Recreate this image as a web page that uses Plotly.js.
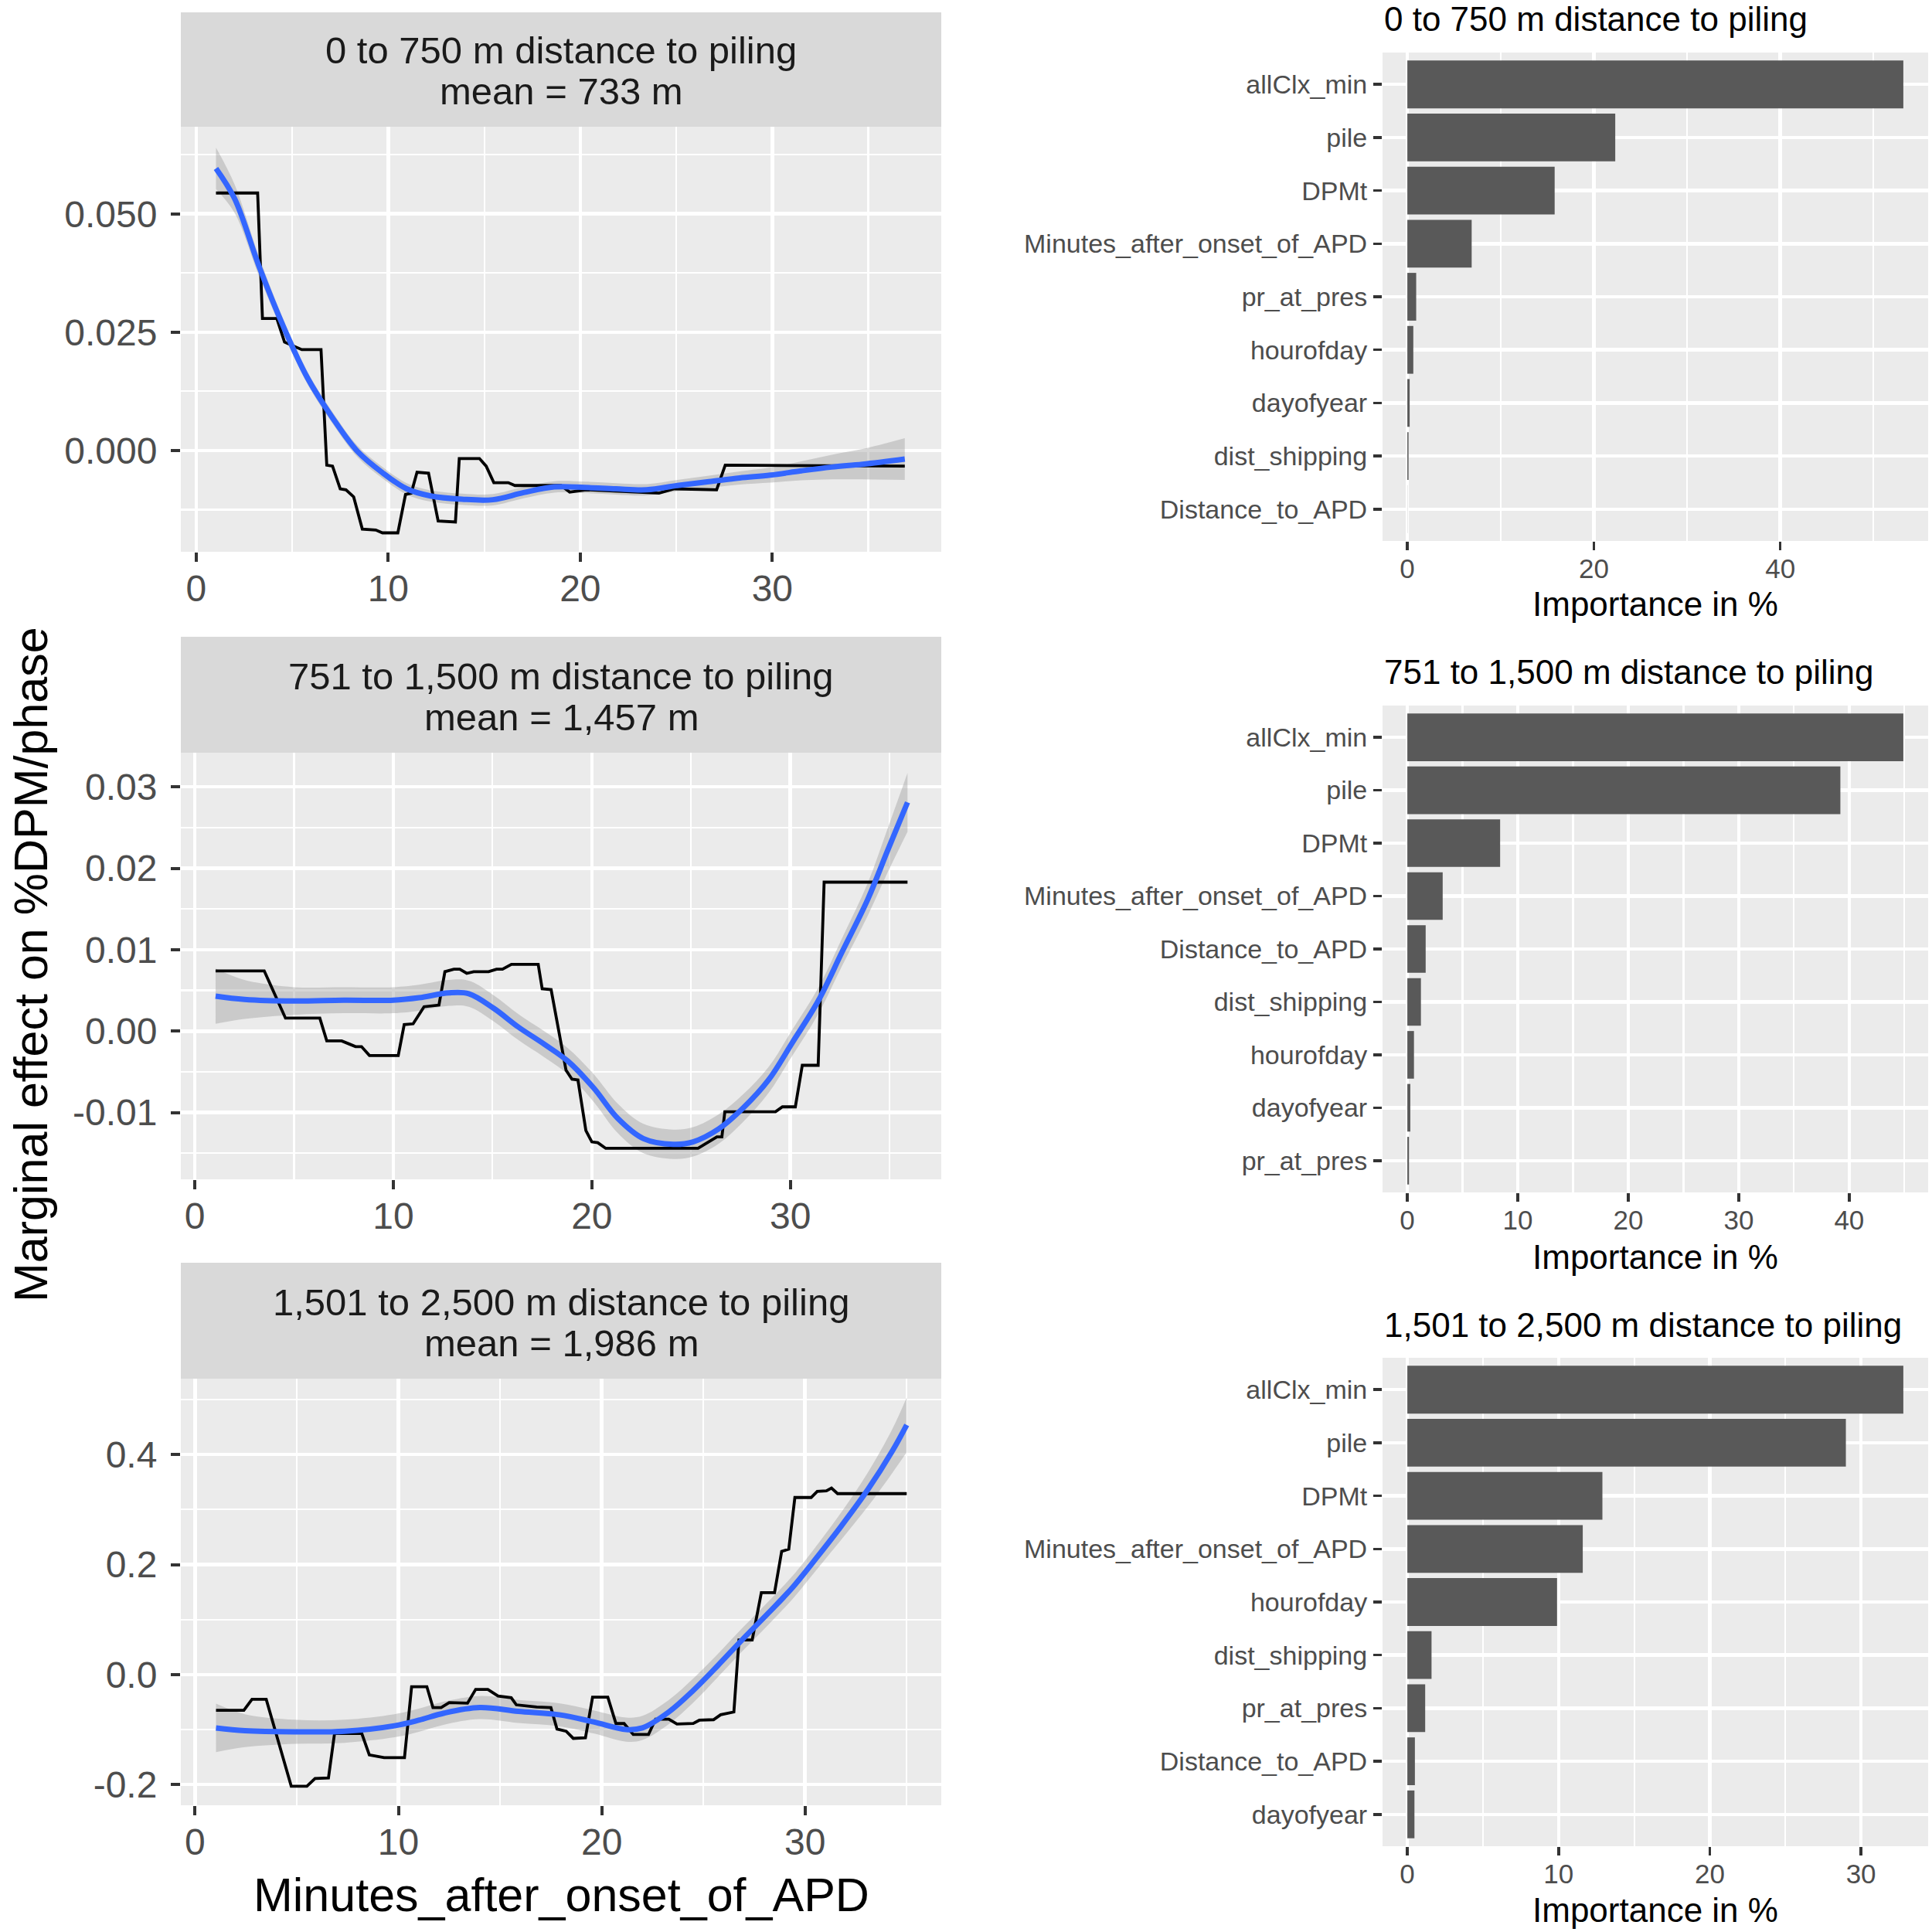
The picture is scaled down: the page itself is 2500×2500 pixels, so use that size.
<!DOCTYPE html>
<html>
<head>
<meta charset="utf-8">
<script src="https://cdn.plot.ly/plotly-3.0.1.min.js"></script>
<style>body{margin:0;background:#fff}#plot{width:2500px;height:2500px}</style>
</head>
<body>
<div id="plot"></div>
<script>
// partial dependence, 0 to 750 m
var stepX1 = [1.03, 3.2, 3.45, 4.2, 4.6, 5.2, 5.5, 6.5, 6.8, 7.1, 7.5, 7.8, 8.2, 8.65, 9.35, 9.7, 10.5, 10.9, 11.2, 11.5, 12.1, 12.6, 13.5, 13.7, 14.75, 15.1, 15.5, 16.25, 16.6, 19.0, 19.45, 20.3, 22.7, 24.1, 24.9, 27.1, 27.55, 36.9];
var stepY1 = [0.0544, 0.0544, 0.0279, 0.0279, 0.0229, 0.0219, 0.0213, 0.0213, -0.0031, -0.0033, -0.0081, -0.0083, -0.0098, -0.0166, -0.0168, -0.0174, -0.0174, -0.0093, -0.0090, -0.0046, -0.0048, -0.0149, -0.0151, -0.0017, -0.0017, -0.0033, -0.0068, -0.0068, -0.0074, -0.0074, -0.0088, -0.0083, -0.0088, -0.0090, -0.0081, -0.0083, -0.0031, -0.0033];
var fitX1 = [1.03, 2, 3.3, 4.55, 5.8, 7.1, 8.4, 9.7, 10.96, 12.2, 13.85, 15.45, 17.05, 18.65, 20.25, 21.86, 23.46, 25.06, 26.7, 28.3, 29.9, 31.5, 33.1, 34.7, 36.9];
var fitY1 = [0.0596, 0.0532, 0.0386, 0.0261, 0.0153, 0.0069, -0.0002, -0.0047, -0.0081, -0.0096, -0.0103, -0.0104, -0.0089, -0.0077, -0.0078, -0.0081, -0.0083, -0.0074, -0.0066, -0.0058, -0.0052, -0.0043, -0.0035, -0.0029, -0.0018];
var fitSe1 = [0.0044, 0.0030, 0.0020, 0.0015, 0.0013, 0.0012, 0.0012, 0.0012, 0.0012, 0.0012, 0.0012, 0.0012, 0.0012, 0.0012, 0.0012, 0.0012, 0.0012, 0.0012, 0.0013, 0.0014, 0.0016, 0.0020, 0.0026, 0.0032, 0.0044];

// partial dependence, 751 to 1,500 m
var stepX2 = [1.05, 3.5, 4.57, 6.3, 6.65, 7.4, 7.8, 8.1, 8.4, 8.8, 10.25, 10.55, 11.0, 11.55, 12.3, 12.6, 13.05, 13.35, 13.7, 14.05, 14.8, 15.2, 15.5, 15.95, 17.3, 17.5, 17.95, 18.7, 19.0, 19.3, 19.7, 20.0, 20.3, 20.7, 25.35, 26.3, 26.55, 26.7, 29.25, 29.6, 30.25, 30.6, 31.4, 31.7, 35.9];
var stepY2 = [0.0074, 0.0074, 0.0016, 0.0016, -0.0012, -0.0012, -0.0016, -0.0019, -0.0019, -0.0030, -0.0030, 0.0008, 0.0009, 0.0030, 0.0032, 0.0073, 0.0076, 0.0076, 0.0071, 0.0073, 0.0073, 0.0076, 0.0076, 0.0082, 0.0082, 0.0052, 0.0051, -0.0048, -0.0059, -0.0060, -0.0122, -0.0136, -0.0137, -0.0144, -0.0144, -0.0130, -0.0130, -0.0099, -0.0099, -0.0093, -0.0093, -0.0042, -0.0042, 0.0183, 0.0183];
var fitX2 = [1.05, 2.5, 5.0, 7.5, 10.0, 11.3, 12.8, 13.8, 15.06, 16.3, 17.6, 18.8, 20.1, 21.3, 22.6, 24.1, 25.1, 26.4, 27.6, 28.9, 30.1, 31.4, 32.6, 33.9, 34.9, 35.9];
var fitY2 = [0.0043, 0.0039, 0.0037, 0.0038, 0.0038, 0.0041, 0.0047, 0.0046, 0.0028, 0.0005, -0.0016, -0.0037, -0.0070, -0.0107, -0.0132, -0.0139, -0.0136, -0.0120, -0.0095, -0.0060, -0.0014, 0.0037, 0.0097, 0.0162, 0.0222, 0.0281];
var fitSe2 = [0.0034, 0.0024, 0.0017, 0.0016, 0.0016, 0.0016, 0.0016, 0.0016, 0.0016, 0.0016, 0.0016, 0.0016, 0.0017, 0.0018, 0.0018, 0.0018, 0.0018, 0.0018, 0.0017, 0.0016, 0.0016, 0.0016, 0.0017, 0.0020, 0.0027, 0.0036];

// partial dependence, 1,501 to 2,500 m
var stepX3 = [1.03, 2.4, 2.8, 3.5, 4.73, 5.5, 5.9, 6.56, 6.86, 8.2, 8.57, 9.3, 10.3, 10.65, 11.4, 11.7, 12.1, 12.5, 13.4, 13.8, 14.4, 14.9, 15.55, 15.8, 16.8, 17.5, 17.8, 18.25, 18.6, 19.2, 19.55, 20.3, 20.7, 21.1, 21.55, 22.3, 22.65, 23.3, 23.7, 24.5, 24.8, 25.5, 25.85, 26.5, 26.75, 27.4, 27.85, 28.5, 28.85, 29.2, 29.5, 30.3, 30.6, 31.05, 31.3, 31.6, 35.0];
var stepY3 = [-0.065, -0.065, -0.045, -0.045, -0.203, -0.203, -0.189, -0.188, -0.107, -0.107, -0.146, -0.151, -0.151, -0.022, -0.022, -0.060, -0.060, -0.051, -0.052, -0.027, -0.027, -0.039, -0.042, -0.055, -0.059, -0.060, -0.099, -0.103, -0.116, -0.115, -0.041, -0.041, -0.089, -0.089, -0.109, -0.109, -0.081, -0.081, -0.090, -0.089, -0.083, -0.082, -0.073, -0.068, 0.063, 0.063, 0.149, 0.149, 0.224, 0.228, 0.322, 0.322, 0.333, 0.334, 0.339, 0.329, 0.329];
var fitX3 = [1.03, 2.45, 4.9, 7.35, 9.8, 11.0, 12.25, 14.0, 15.9, 17.9, 19.6, 21.2, 22.0, 23.3, 24.5, 25.7, 26.9, 28.2, 29.4, 30.6, 31.8, 33.1, 34.3, 35.0];
var fitY3 = [-0.097, -0.102, -0.104, -0.103, -0.093, -0.083, -0.070, -0.060, -0.067, -0.073, -0.086, -0.100, -0.097, -0.068, -0.029, 0.016, 0.063, 0.112, 0.159, 0.214, 0.271, 0.337, 0.407, 0.454];
var fitSe3 = [0.044, 0.030, 0.022, 0.021, 0.021, 0.021, 0.021, 0.021, 0.021, 0.021, 0.021, 0.022, 0.022, 0.022, 0.022, 0.021, 0.021, 0.021, 0.021, 0.022, 0.025, 0.031, 0.040, 0.050];

// variable importance (top to bottom)
var varNames1 = ["allClx_min", "pile", "DPMt", "Minutes_after_onset_of_APD", "pr_at_pres", "hourofday", "dayofyear", "dist_shipping", "Distance_to_APD"];
var importance1 = [53.2, 22.3, 15.8, 6.9, 0.95, 0.64, 0.25, 0.13, 0.01];
var varNames2 = ["allClx_min", "pile", "DPMt", "Minutes_after_onset_of_APD", "Distance_to_APD", "dist_shipping", "hourofday", "dayofyear", "pr_at_pres"];
var importance2 = [44.9, 39.2, 8.4, 3.2, 1.66, 1.23, 0.6, 0.27, 0.15];
var varNames3 = ["allClx_min", "pile", "DPMt", "Minutes_after_onset_of_APD", "hourofday", "dist_shipping", "pr_at_pres", "Distance_to_APD", "dayofyear"];
var importance3 = [32.8, 29.0, 12.9, 11.6, 9.9, 1.6, 1.18, 0.5, 0.47];

var stripLines = [["0 to 750 m distance to piling", "mean = 733 m"],
                  ["751 to 1,500 m distance to piling", "mean = 1,457 m"],
                  ["1,501 to 2,500 m distance to piling", "mean = 1,986 m"]];
var barTitles = ["0 to 750 m distance to piling", "751 to 1,500 m distance to piling", "1,501 to 2,500 m distance to piling"];

var yTicks1 = [0, 0.025, 0.05], yText1 = ["0.000", "0.025", "0.050"];
var yTicks2 = [-0.01, 0, 0.01, 0.02, 0.03], yText2 = ["-0.01", "0.00", "0.01", "0.02", "0.03"];
var yTicks3 = [-0.2, 0, 0.2, 0.4], yText3 = ["-0.2", "0.0", "0.2", "0.4"];

var FONT = "Liberation Sans, Arial, sans-serif";
var data = [];

function addPanel(n, sx, sy, fx, fy, se) {
  var xa = n === 1 ? "x" : "x" + n, ya = n === 1 ? "y" : "y" + n;
  var upper = fy.map(function (v, i) { return v + se[i]; });
  var lower = fy.map(function (v, i) { return v - se[i]; });
  data.push({x: fx, y: upper, xaxis: xa, yaxis: ya, mode: "lines", line: {width: 0, shape: "spline"}, hoverinfo: "skip", showlegend: false});
  data.push({x: fx, y: lower, xaxis: xa, yaxis: ya, mode: "lines", line: {width: 0, shape: "spline"}, fill: "tonexty", fillcolor: "rgba(153,153,153,0.4)", showlegend: false});
  data.push({x: sx, y: sy, xaxis: xa, yaxis: ya, mode: "lines", line: {color: "#000000", width: 3.8}, showlegend: false});
  data.push({x: fx, y: fy, xaxis: xa, yaxis: ya, mode: "lines", line: {color: "#3366FF", width: 7, shape: "spline"}, showlegend: false});
}
addPanel(1, stepX1, stepY1, fitX1, fitY1, fitSe1);
addPanel(2, stepX2, stepY2, fitX2, fitY2, fitSe2);
addPanel(3, stepX3, stepY3, fitX3, fitY3, fitSe3);

function addBars(n, names, vals) {
  data.push({type: "bar", orientation: "h", x: vals, y: names, xaxis: "x" + n, yaxis: "y" + n,
    marker: {color: "#595959", line: {width: 0}}, showlegend: false});
}
addBars(4, varNames1, importance1);
addBars(5, varNames2, importance2);
addBars(6, varNames3, importance3);

var base = {
  showgrid: true, gridcolor: "#FFFFFF", gridwidth: 4.5, zeroline: false, showline: false,
  ticks: "outside", ticklen: 12, tickwidth: 4, tickcolor: "#333333", automargin: false,
  tickfont: {family: FONT, size: 48, color: "#4D4D4D"}
};
function ax(extra) { return Object.assign({}, base, extra); }
function minor(d) { return {dtick: d, showgrid: true, gridcolor: "#FFFFFF", gridwidth: 2.2, ticks: ""}; }

var L = [0.0936, 0.4872], R = [0.7156, 0.998];
var layout = {
  width: 2500, height: 2500, margin: {l: 0, r: 0, t: 0, b: 0},
  paper_bgcolor: "#FFFFFF", plot_bgcolor: "#EBEBEB", bargap: 0.1,
  font: {family: FONT},
  xaxis:  ax({domain: L, anchor: "y",  range: [-0.8, 38.8], dtick: 10, tick0: 0, minor: minor(5), ticklabelstandoff: -7}),
  yaxis:  ax({domain: [0.7144, 0.9344], anchor: "x",  range: [-0.0214, 0.0684], tickvals: yTicks1, ticktext: yText1, minor: minor(0.0125), ticklabelstandoff: 8}),
  xaxis2: ax({domain: L, anchor: "y2", range: [-0.7, 37.6], dtick: 10, tick0: 0, minor: minor(5), ticklabelstandoff: -7}),
  yaxis2: ax({domain: [0.3896, 0.6104], anchor: "x2", range: [-0.0182, 0.0342], tickvals: yTicks2, ticktext: yText2, minor: minor(0.005), ticklabelstandoff: 8}),
  xaxis3: ax({domain: L, anchor: "y3", range: [-0.7, 36.7], dtick: 10, tick0: 0, minor: minor(5), ticklabelstandoff: -7}),
  yaxis3: ax({domain: [0.0656, 0.2864], anchor: "x3", range: [-0.2376, 0.538], tickvals: yTicks3, ticktext: yText3, minor: minor(0.1), ticklabelstandoff: 8})
};
var rightY = [[0.72, 0.9728], [0.3828, 0.6348], [0.0444, 0.2972]];
var rightX = [[-2.66, 55.86, 20], [-2.245, 47.145, 10], [-1.64, 34.44, 10]];
var rightNames = [varNames1, varNames2, varNames3];
for (var k = 0; k < 3; k++) {
  var n = k + 4;
  layout["xaxis" + n] = ax({domain: R, anchor: "y" + n, range: [rightX[k][0], rightX[k][1]], dtick: rightX[k][2], tick0: 0,
    minor: minor(rightX[k][2] / 2), ticklen: 11, tickwidth: 3.5, tickfont: {family: FONT, size: 35, color: "#4D4D4D"}, ticklabelstandoff: -6});
  layout["yaxis" + n] = ax({domain: rightY[k], anchor: "x" + n, type: "category", categoryorder: "array",
    categoryarray: rightNames[k], range: [8.6, -0.6], ticklen: 11, tickwidth: 3.5,
    tickfont: {family: FONT, size: 34, color: "#4D4D4D"}, ticklabelstandoff: 1});
}

var shapes = [], annotations = [];
var stripY = [[0.9344, 0.9936], [0.6104, 0.6704], [0.2864, 0.3464]];
var stripTextY = [[65, 118], [875, 928], [1685, 1738]];
for (var s = 0; s < 3; s++) {
  shapes.push({type: "rect", xref: "paper", yref: "paper", x0: L[0], x1: L[1], y0: stripY[s][0], y1: stripY[s][1],
    fillcolor: "#D9D9D9", line: {width: 0}, layer: "below"});
  for (var j = 0; j < 2; j++) {
    annotations.push({xref: "paper", yref: "paper", x: (L[0] + L[1]) / 2, y: 1 - stripTextY[s][j] / 2500,
      text: stripLines[s][j], showarrow: false, xanchor: "center", yanchor: "middle",
      font: {family: FONT, size: 49, color: "#1A1A1A"}});
  }
}
var barTitleY = [24, 869, 1714], barXTitleY = [781, 1626, 2471];
for (var b = 0; b < 3; b++) {
  annotations.push({xref: "paper", yref: "paper", x: R[0], y: 1 - barTitleY[b] / 2500, text: barTitles[b],
    showarrow: false, xanchor: "left", yanchor: "middle", font: {family: FONT, size: 44, color: "#000000"}});
  annotations.push({xref: "paper", yref: "paper", x: (R[0] + R[1]) / 2, y: 1 - barXTitleY[b] / 2500, text: "Importance in %",
    showarrow: false, xanchor: "center", yanchor: "middle", font: {family: FONT, size: 44, color: "#000000"}});
}
annotations.push({xref: "paper", yref: "paper", x: 40 / 2500, y: 1 - 1248 / 2500, text: "Marginal effect on %DPM/phase",
  textangle: -90, showarrow: false, xanchor: "center", yanchor: "middle", font: {family: FONT, size: 61, color: "#000000"}});
annotations.push({xref: "paper", yref: "paper", x: 726 / 2500, y: 1 - 2452 / 2500, text: "Minutes_after_onset_of_APD",
  showarrow: false, xanchor: "center", yanchor: "middle", font: {family: FONT, size: 61, color: "#000000"}});
layout.shapes = shapes;
layout.annotations = annotations;

Plotly.newPlot("plot", data, layout, {staticPlot: true});
</script>
</body>
</html>
